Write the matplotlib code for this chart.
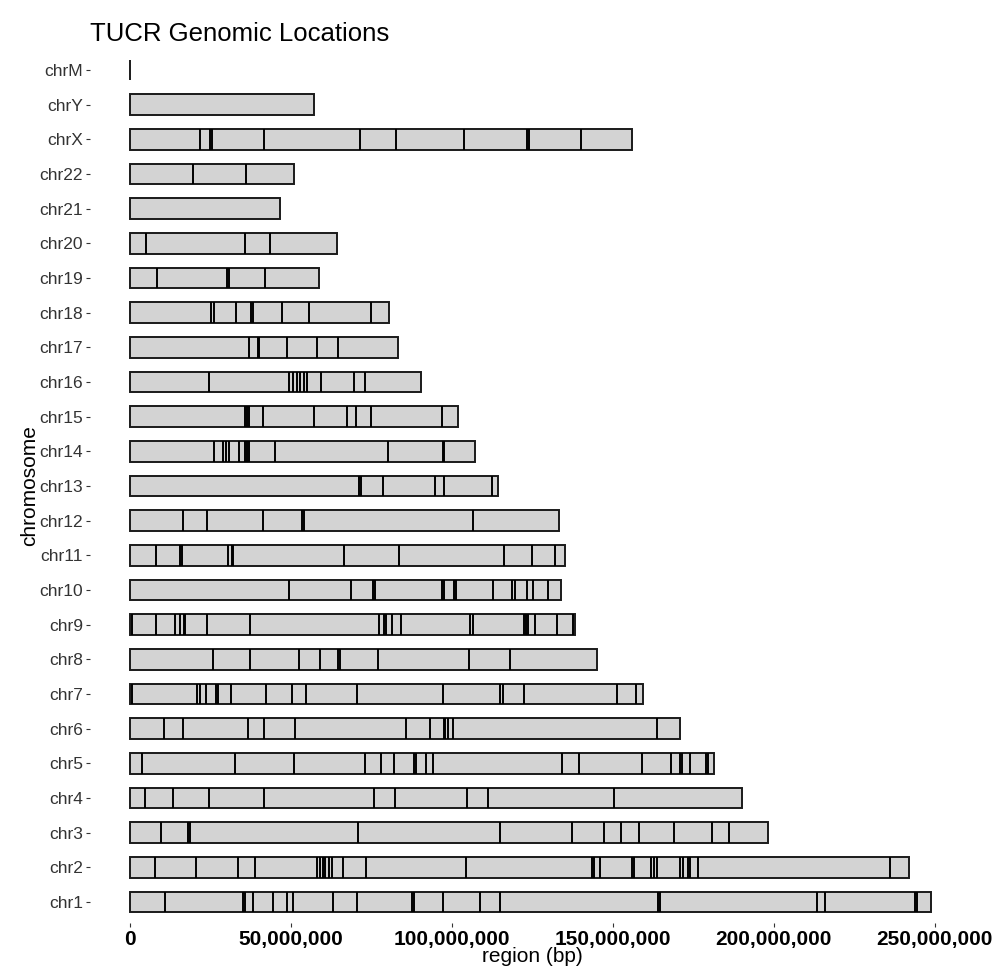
import numpy as np
import matplotlib
matplotlib.use("Agg")
import matplotlib.pyplot as plt

plt.rcParams['font.family'] = ['Liberation Sans', 'DejaVu Sans']

# chromosome names (bottom to top) and lengths in bp (hg38)
chroms = ["chr1", "chr2", "chr3", "chr4", "chr5", "chr6", "chr7", "chr8", "chr9",
          "chr10", "chr11", "chr12", "chr13", "chr14", "chr15", "chr16", "chr17",
          "chr18", "chr19", "chr20", "chr21", "chr22", "chrX", "chrY", "chrM"]
lengths = [248956422, 242193529, 198295559, 190214555, 181538259, 170805979,
           159345973, 145138636, 138394717, 133797422, 135086622, 133275309,
           114364328, 107043718, 101991189, 90338345, 83257441, 80373285,
           58617616, 64444167, 46709983, 50818468, 156040895, 57227415, 16569]

# TUCR positions per chromosome, in Mb
tucr_chr1 = [10.9, 35.2, 35.7, 38.3, 44.5, 48.7, 50.5, 63.2, 70.4, 87.6, 88.1,
             97.1, 108.8, 115.0, 164.2, 164.7, 213.4, 215.8, 243.9, 244.5]
tucr_chr2 = [7.8, 20.4, 33.5, 38.8, 58.0, 59.0, 59.9, 60.7, 61.9, 62.9, 66.3,
             73.2, 104.3, 143.5, 144.1, 146.1, 155.9, 156.5, 161.9, 162.8, 163.6,
             170.9, 171.7, 173.3, 173.9, 176.6, 236.2]
tucr_chr3 = [9.5, 18.1, 18.7, 70.8, 115.0, 137.3, 147.4, 152.6, 158.3, 169.1,
             180.7, 186.1]
tucr_chr4 = [4.5, 13.2, 24.6, 41.7, 75.8, 82.4, 104.6, 111.1, 150.5]
tucr_chr5 = [3.6, 32.6, 51.0, 73.0, 77.9, 82.0, 88.1, 88.7, 92.0, 94.0, 134.3,
             139.5, 159.0, 168.0, 170.9, 171.5, 174.0, 178.9, 179.7]
tucr_chr6 = [10.4, 16.3, 36.8, 41.6, 51.3, 85.8, 93.2, 97.4, 98.0, 98.9, 100.4,
             163.7]
tucr_chr7 = [0.5, 20.9, 21.8, 23.6, 26.6, 27.2, 31.4, 42.2, 50.2, 54.6, 70.4,
             97.1, 114.8, 115.8, 122.4, 151.2, 157.1]
tucr_chr8 = [25.9, 37.3, 52.6, 59.0, 64.6, 65.2, 77.0, 105.3, 118.1]
tucr_chr9 = [0.5, 8.1, 14.0, 15.5, 16.7, 17.2, 23.8, 37.3, 77.2, 78.9, 79.5,
             81.3, 84.1, 105.7, 106.7, 122.5, 123.1, 123.7, 125.9, 132.6, 137.6]
tucr_chr10 = [49.4, 68.7, 75.5, 76.1, 96.8, 97.4, 100.7, 101.3, 112.7, 118.6,
              119.6, 123.2, 125.3, 129.8]
tucr_chr11 = [8.1, 15.5, 16.1, 30.4, 31.6, 32.1, 66.6, 83.5, 116.3, 124.8, 132.1]
tucr_chr12 = [16.6, 24.0, 41.4, 53.3, 53.9, 106.7]
tucr_chr13 = [71.2, 71.8, 78.5, 94.8, 97.4, 112.4]
tucr_chr14 = [26.2, 29.0, 29.8, 30.6, 33.9, 35.6, 36.2, 37.0, 45.1, 80.0, 97.1,
              97.7]
tucr_chr15 = [35.6, 36.2, 36.9, 41.4, 57.0, 67.5, 70.1, 74.9, 96.9]
tucr_chr16 = [24.5, 49.5, 50.5, 51.8, 52.8, 54.1, 55.1, 59.3, 69.6, 73.0]
tucr_chr17 = [36.9, 39.6, 40.2, 48.7, 58.1, 64.6]
tucr_chr18 = [25.2, 26.2, 32.9, 37.6, 38.2, 47.3, 55.6, 74.9]
tucr_chr19 = [8.5, 30.0, 30.8, 42.0]
tucr_chr20 = [4.9, 35.8, 43.6]
tucr_chr21 = []
tucr_chr22 = [19.5, 35.9]
tucr_chrX = [21.8, 24.8, 25.4, 41.6, 71.5, 82.7, 103.9, 123.5, 124.1, 140.1]
tucr_chrY = []
tucr_chrM = []

tucrs = [tucr_chr1, tucr_chr2, tucr_chr3, tucr_chr4, tucr_chr5, tucr_chr6,
         tucr_chr7, tucr_chr8, tucr_chr9, tucr_chr10, tucr_chr11, tucr_chr12,
         tucr_chr13, tucr_chr14, tucr_chr15, tucr_chr16, tucr_chr17, tucr_chr18,
         tucr_chr19, tucr_chr20, tucr_chr21, tucr_chr22, tucr_chrX, tucr_chrY,
         tucr_chrM]

xticks = [0, 50000000, 100000000, 150000000, 200000000, 250000000]

fig = plt.figure(figsize=(9.95, 9.73), dpi=100)
ax = fig.add_axes([0.0903, 0.0515, 0.8894, 0.898])

ypos = np.arange(1, len(chroms) + 1)
h = 0.6

# chromosome bars
ax.barh(ypos, lengths, height=h, left=0, color="#d3d3d3",
        edgecolor="#1a1a1a", linewidth=1.4, zorder=2)

# TUCR marks
for y, pos in zip(ypos, tucrs):
    if len(pos) > 0:
        ax.vlines(np.array(pos) * 1e6, y - h / 2, y + h / 2, color="black",
                  linewidth=1.4, zorder=3)

ax.set_xlim(-12.5e6, 262.5e6)
ax.set_ylim(0.4, len(chroms) + 0.6)

ax.set_yticks(ypos)
ax.set_yticklabels(chroms, fontsize=12.5, color="#333333")
ax.set_xticks(xticks)
ax.set_xticklabels([f"{v:,}" for v in xticks], fontsize=15, fontweight="bold",
                   color="black")
ax.tick_params(axis="both", length=3, width=0.8, color="#333333", pad=2)

for s in ax.spines.values():
    s.set_visible(False)

ax.set_xlabel("region (bp)", fontsize=15, labelpad=-1)
ax.set_ylabel("chromosome", fontsize=15, labelpad=0)
ax.set_title("TUCR Genomic Locations", fontsize=18.5, loc="left", pad=6)

fig.savefig("out.png", dpi=100)
